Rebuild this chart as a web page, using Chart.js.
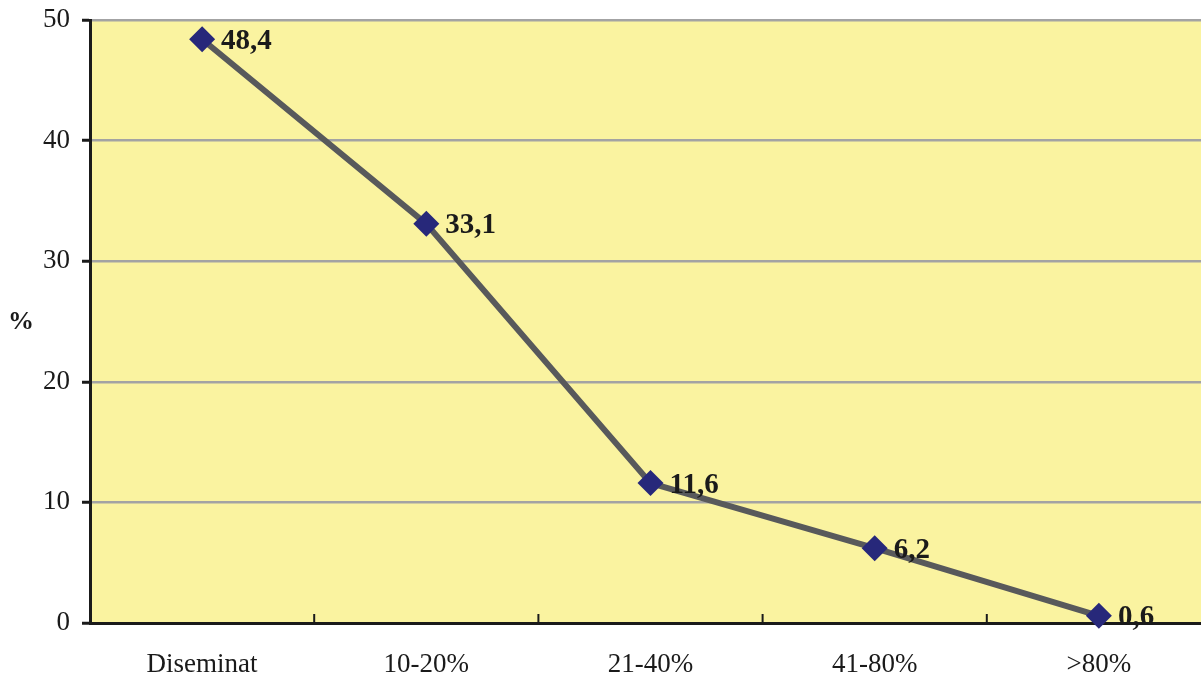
<!DOCTYPE html>
<html>
<head>
<meta charset="utf-8">
<script src="https://cdn.jsdelivr.net/npm/chart.js@4/dist/chart.umd.min.js"></script>
<style>
	html, body { margin: 0; padding: 0; background: #fff; overflow: hidden; }
	#wrap { position: absolute; left: 0; top: 0; width: 1224px; height: 677px; }
</style>
</head>
<body>
<div id="wrap"><canvas id="myChart" width="1224" height="677" style="width:1224px;height:677px"></canvas></div>
<script>
var categories = ['Diseminat', '10-20%', '21-40%', '41-80%', '>80%'];
var values = [48.4, 33.1, 11.6, 6.2, 0.6];
var valueLabels = ['48,4', '33,1', '11,6', '6,2', '0,6'];
var yTicks = [0, 10, 20, 30, 40, 50];

var serif = '"Liberation Serif", "Times New Roman", serif';

// fond galben + semnul % + eticheta valorilor
var decor = {
	id: 'decor',
	beforeDraw: function (chart) {
		var a = chart.chartArea, ctx = chart.ctx;
		ctx.save();
		ctx.fillStyle = '#faf3a0';
		ctx.fillRect(a.left, a.top, a.right - a.left, a.bottom - a.top);
		ctx.restore();
	},
	afterDraw: function (chart) {
		var ctx = chart.ctx, a = chart.chartArea;
		var x = chart.scales.x;
		ctx.save();
		// mici linii de diviziune pe axa x, spre interior
		ctx.strokeStyle = '#1a1a1a';
		ctx.lineWidth = 2;
		for (var i = 0; i < categories.length - 1; i++) {
			var px = (x.getPixelForValue(i) + x.getPixelForValue(i + 1)) / 2;
			ctx.beginPath();
			ctx.moveTo(px, a.bottom);
			ctx.lineTo(px, a.bottom - 9);
			ctx.stroke();
		}
		// titlul axei y
		ctx.fillStyle = '#1a1a1a';
		ctx.font = 'bold 26px ' + serif;
		ctx.textAlign = 'center';
		ctx.textBaseline = 'middle';
		ctx.fillText('%', 21, 322);
		// valori
		var meta = chart.getDatasetMeta(0);
		ctx.font = 'bold 29px ' + serif;
		ctx.textAlign = 'left';
		meta.data.forEach(function (pt, i) {
			ctx.fillText(valueLabels[i], pt.x + 19, pt.y + 2);
		});
		ctx.restore();
	}
};

var ctx = document.getElementById('myChart').getContext('2d');
var chart = new Chart(ctx, {
	type: 'line',
	data: {
		labels: categories,
		datasets: [
			{
				data: values,
				borderColor: '#58595b',
				borderWidth: 6,
				backgroundColor: '#27287a',
				pointStyle: 'rectRot',
				pointRadius: 13,
				pointBorderWidth: 0,
				pointBackgroundColor: '#27287a',
				tension: 0,
				clip: false
			}
		]
	},
	options: {
		responsive: false,
		maintainAspectRatio: false,
		animation: false,
		devicePixelRatio: 1,
		layout: { padding: 0 },
		plugins: {
			legend: { display: false },
			tooltip: { enabled: false }
		},
		scales: {
			x: {
				type: 'category',
				offset: true,
				grid: { display: false, offset: true },
				border: { display: true, color: '#1a1a1a', width: 3 },
				ticks: {
					color: '#1a1a1a',
					font: { family: serif, size: 27 },
					padding: 18,
					maxRotation: 0
				},
				afterFit: function (scale) {
					scale.height = 54;
					scale.paddingLeft = 0;
					scale.paddingRight = 0;
				}
			},
			y: {
				min: 0,
				max: 50,
				afterBuildTicks: function (scale) {
					scale.ticks = yTicks.map(function (v) { return { value: v }; });
				},
				grid: {
					color: function (c) { return c.tick && c.tick.value === 0 ? 'rgba(0,0,0,0)' : '#a3a3a3'; },
					lineWidth: 2.5,
					drawTicks: true,
					tickColor: '#1a1a1a',
					tickLength: 8,
					tickWidth: 3
				},
				border: { display: true, color: '#1a1a1a', width: 3 },
				ticks: {
					color: '#1a1a1a',
					font: { family: serif, size: 27 },
					padding: 12
				},
				afterFit: function (scale) {
					scale.width = 90;
					scale.paddingTop = 20;
					scale.paddingBottom = 0;
				}
			}
		}
	},
	plugins: [decor]
});
</script>
</body>
</html>
